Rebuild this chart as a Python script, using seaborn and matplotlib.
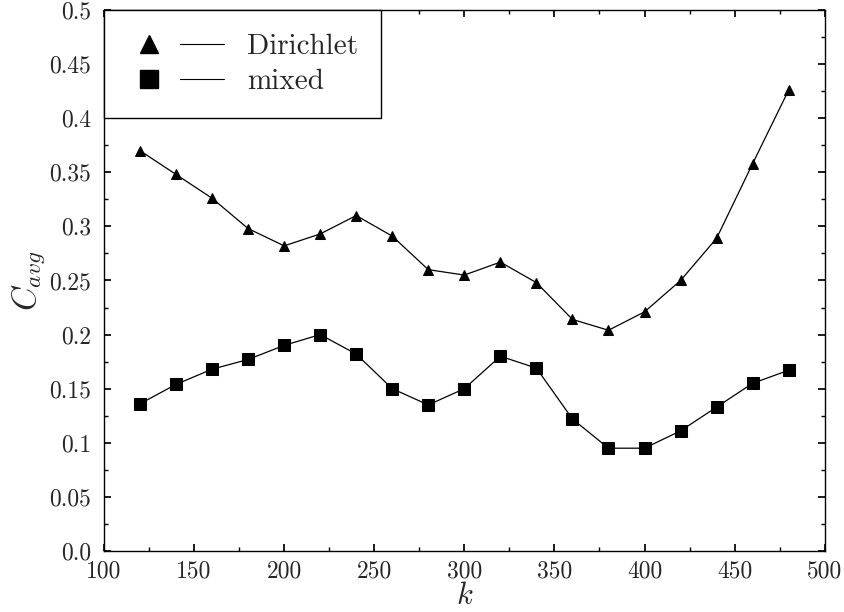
import numpy as np
import pandas as pd
import matplotlib
matplotlib.use("Agg")
import matplotlib.pyplot as plt
import seaborn as sns
from matplotlib.lines import Line2D
from matplotlib.legend_handler import HandlerTuple
from matplotlib.ticker import MultipleLocator

# Data
k = [120, 140, 160, 180, 200, 220, 240, 260, 280, 300,
     320, 340, 360, 380, 400, 420, 440, 460, 480]
dirichlet = [0.370, 0.348, 0.326, 0.298, 0.282, 0.293, 0.310, 0.291, 0.260, 0.255,
             0.267, 0.248, 0.214, 0.204, 0.221, 0.250, 0.289, 0.358, 0.426]
mixed = [0.136, 0.154, 0.168, 0.177, 0.190, 0.200, 0.182, 0.150, 0.135, 0.150,
         0.180, 0.169, 0.122, 0.095, 0.095, 0.111, 0.133, 0.155, 0.167]
y_ticks = [0.0, 0.05, 0.1, 0.15, 0.2, 0.25, 0.3, 0.35, 0.4, 0.45, 0.5]
y_labels = ["0.0", "0.05", "0.1", "0.15", "0.2", "0.25", "0.3", "0.35", "0.4", "0.45", "0.5"]
x_ticks = [100, 150, 200, 250, 300, 350, 400, 450, 500]

df = pd.DataFrame({"k": k, "Dirichlet": dirichlet, "mixed": mixed})

sns.set_theme(style="ticks")
plt.rcParams["font.family"] = "serif"
plt.rcParams["font.serif"] = ["cmr10"]
plt.rcParams["mathtext.fontset"] = "cm"
plt.rcParams["axes.formatter.use_mathtext"] = True

fig = plt.figure(figsize=(8.45, 6.12), dpi=100)
ax = fig.add_axes([0.123, 0.0997, 0.853, 0.884])

sns.lineplot(data=df, x="k", y="Dirichlet", ax=ax, color="black", linewidth=0.9,
             marker="^", markersize=7.5, markeredgecolor="black", legend=False)
sns.lineplot(data=df, x="k", y="mixed", ax=ax, color="black", linewidth=0.9,
             marker="s", markersize=8.5, markeredgecolor="black", legend=False)

ax.set_xlim(100, 500)
ax.set_ylim(0, 0.5)
ax.set_xticks(x_ticks)
ax.set_xticklabels([str(v) for v in x_ticks])
ax.set_yticks(y_ticks)
ax.set_yticklabels(y_labels)
ax.xaxis.set_minor_locator(MultipleLocator(25))
ax.yaxis.set_minor_locator(MultipleLocator(0.025))
ax.tick_params(which="both", direction="in", top=True, right=True, color="black")
ax.tick_params(which="major", length=5, labelsize=17)
ax.tick_params(axis="x", which="major", pad=7)
ax.tick_params(axis="y", which="major", pad=9)
ax.tick_params(which="minor", length=3)
for s in ax.spines.values():
    s.set_color("black")
    s.set_linewidth(1.0)

ax.set_xlabel(r"$k$", fontsize=22, labelpad=0)
ax.set_ylabel(r"$C_{avg}$", fontsize=24, labelpad=2)

h1 = (Line2D([], [], linestyle="none", marker="^", markersize=13, color="black"),
      Line2D([], [], color="black", linewidth=0.8))
h2 = (Line2D([], [], linestyle="none", marker="s", markersize=13, color="black"),
      Line2D([], [], color="black", linewidth=0.8))
leg = ax.legend([h1, h2], ["Dirichlet", "mixed"], loc="upper left",
                handler_map={tuple: HandlerTuple(ndivide=None, pad=0.3)},
                handlelength=3.3, fontsize=21, frameon=True, fancybox=False,
                framealpha=1, edgecolor="black", borderaxespad=0,
                borderpad=0.8, labelspacing=0.3, handletextpad=0.8)
leg.get_frame().set_linewidth(1.0)

fig.savefig("out.png", dpi=100)
